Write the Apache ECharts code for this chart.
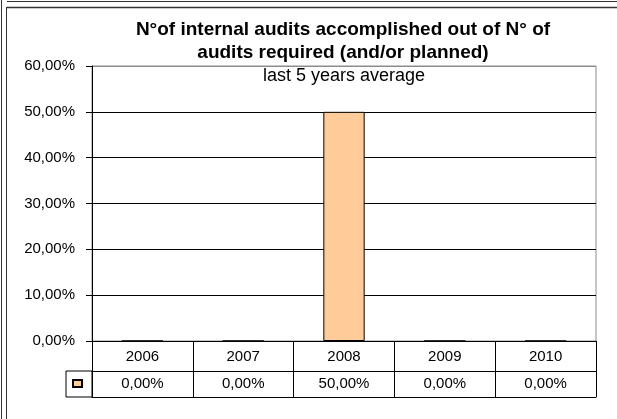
<!DOCTYPE html>
<html>
<head>
<meta charset="utf-8">
<script src="https://cdn.jsdelivr.net/npm/echarts@6/dist/echarts.min.js"></script>
<style>
  html, body { margin: 0; padding: 0; background: #fff; }
  #chart { width: 617px; height: 419px; }
</style>
</head>
<body>
<div id="chart"></div>
<script>
// Audit completion ratio per year (percent)
const years = ['2006', '2007', '2008', '2009', '2010'];
const auditRatio = [0, 0, 50, 0, 0];
const yMax = 60;
const yStep = 10;

const titleText = 'N°of internal audits accomplished out of N° of\naudits required (and/or planned)';
const subTitleText = 'last 5 years average';

const FONT = '"Liberation Sans", Arial, sans-serif';
const fmtPct = v => v.toFixed(2).replace('.', ',') + '%';

const chart = echarts.init(document.getElementById('chart'), null, { renderer: 'canvas' });

// colours for horizontal gridlines: bottom..top (top edge is the lighter frame)
const gridLineColors = [];
for (let v = 0; v <= yMax; v += yStep) gridLineColors.push(v === yMax ? '#8c8c8c' : '#000');

chart.setOption({
  animation: false,
  backgroundColor: '#fff',
  textStyle: { fontFamily: FONT },
  title: [
    {
      text: titleText,
      left: 338, top: 13, textAlign: 'center',
      textStyle: { fontFamily: FONT, fontSize: 19, fontWeight: 'bold', color: '#000', lineHeight: 23 }
    },
    {
      text: subTitleText,
      left: 339, top: 62, textAlign: 'center',
      textStyle: { fontFamily: FONT, fontSize: 18, fontWeight: 'normal', color: '#000' }
    }
  ],
  legend: {
    show: true,
    left: 72, top: 379,
    padding: 0,
    itemWidth: 9, itemHeight: 7,
    icon: 'rect',
    formatter: () => '',
    data: ['ratio']
  },
  grid: {
    left: 92, right: 21, top: 66, bottom: 78,
    show: true,
    borderColor: '#8c8c8c', borderWidth: 1,
    containLabel: false
  },
  xAxis: [
    {
      type: 'category',
      data: years,
      position: 'bottom',
      axisLine: { show: true, lineStyle: { color: '#000', width: 1 } },
      axisTick: { show: true, length: 56, interval: 0, alignWithLabel: false, lineStyle: { color: '#000' } },
      axisLabel: { interval: 0, margin: 8, fontSize: 15, color: '#000', fontFamily: FONT },
      splitLine: { show: false }
    },
    {
      type: 'category',
      data: years,
      position: 'bottom',
      offset: 30,
      axisLine: { show: true, lineStyle: { color: '#000', width: 1 } },
      axisTick: { show: false },
      axisLabel: {
        interval: 0, margin: 5, fontSize: 15, color: '#000', fontFamily: FONT,
        formatter: (val, idx) => fmtPct(auditRatio[idx])
      }
    },
    {
      type: 'category',
      data: years,
      position: 'bottom',
      offset: 56,
      axisLine: { show: true, lineStyle: { color: '#000', width: 1 } },
      axisTick: { show: false },
      axisLabel: { show: false }
    }
  ],
  yAxis: {
    type: 'value',
    min: 0, max: yMax, interval: yStep,
    axisLine: { show: true, lineStyle: { color: '#000', width: 1 } },
    axisTick: { show: true, length: 6, lineStyle: { color: '#000' } },
    axisLabel: { margin: 17, fontSize: 15, color: '#000', fontFamily: FONT, formatter: v => fmtPct(v) },
    splitLine: { show: true, lineStyle: { color: gridLineColors, width: 1 } }
  },
  series: [
    {
      name: 'ratio',
      type: 'bar',
      xAxisIndex: 0,
      data: auditRatio,
      barWidth: '41%',
      itemStyle: { color: '#ffcc99', borderColor: '#000', borderWidth: 1 }
    }
  ],
  graphic: [
    // legend key cell of the data table
    { type: 'rect', shape: { x: 66, y: 371, width: 26, height: 26 }, style: { fill: 'none', stroke: '#000', lineWidth: 1 }, silent: true },
    // sheet cell borders around the chart
    { type: 'line', shape: { x1: 1.5, y1: 0, x2: 1.5, y2: 419 }, style: { stroke: '#333', lineWidth: 1 }, silent: true },
    { type: 'line', shape: { x1: 6.5, y1: 7, x2: 6.5, y2: 419 }, style: { stroke: '#333', lineWidth: 1 }, silent: true },
    { type: 'line', shape: { x1: 7, y1: 1.5, x2: 617, y2: 1.5 }, style: { stroke: '#333', lineWidth: 1 }, silent: true },
    { type: 'line', shape: { x1: 7, y1: 7.5, x2: 617, y2: 7.5 }, style: { stroke: '#333', lineWidth: 1.5 }, silent: true }
  ]
});
</script>
</body>
</html>
